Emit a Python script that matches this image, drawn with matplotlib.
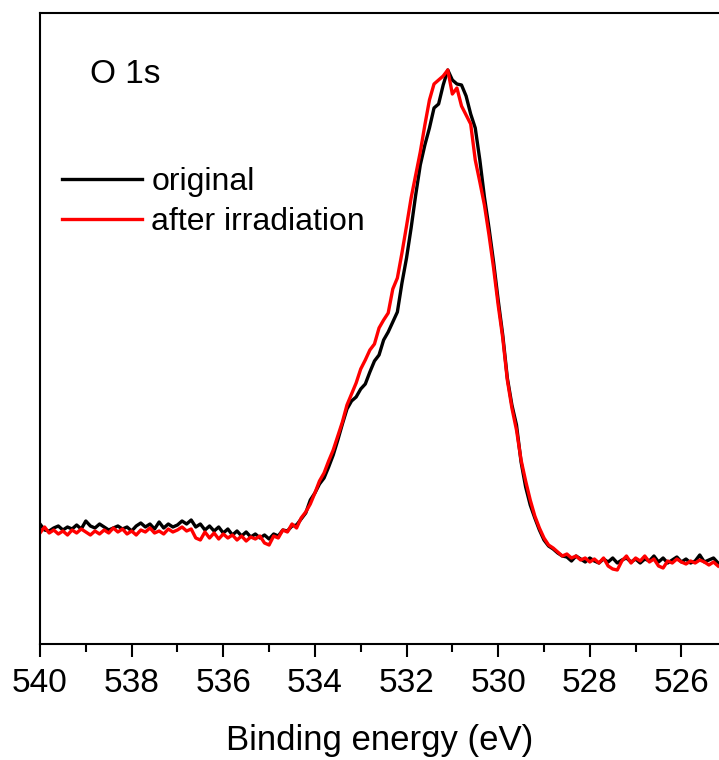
import numpy as np
import matplotlib
matplotlib.use('Agg')
import matplotlib.pyplot as plt

plt.rcParams['font.family'] = ['Liberation Sans', 'DejaVu Sans']

# Binding energy grid (eV), 0.1 eV steps from 540.0 down to 525.2
energy = np.round(np.linspace(540.0, 525.2, 149), 1)

# Intensity (a.u.)
original = [
    120, 114, 113, 116, 118, 114, 117, 115, 119, 115,
    123, 118, 116, 120, 117, 114, 116, 118, 115, 117,
    113, 118, 121, 117, 120, 115, 122, 116, 120, 117,
    119, 123, 120, 124, 117, 120, 114, 118, 113, 117,
    111, 115, 109, 113, 108, 112, 107, 110, 106, 109,
    105, 110, 108, 114, 113, 118, 119, 125, 131, 144,
    151, 160, 166, 177, 189, 204, 220, 235, 243, 247,
    255, 260, 272, 283, 289, 304, 312, 322, 332, 361,
    386, 416, 449, 479, 499, 516, 536, 540, 559, 574,
    564, 560, 559, 548, 530, 516, 484, 447, 416, 382,
    344, 309, 266, 239, 219, 182, 157, 139, 126, 114,
    104, 98, 95, 91, 88, 87, 83, 88, 85, 82,
    86, 83, 81, 85, 82, 86, 81, 84, 86, 82,
    85, 81, 85, 83, 88, 82, 86, 81, 84, 87,
    82, 85, 81, 83, 89, 82, 84, 86, 81,
]
irradiated = [
    111, 117, 111, 114, 110, 113, 109, 114, 111, 115,
    112, 109, 113, 110, 114, 111, 116, 112, 115, 110,
    113, 109, 114, 112, 116, 111, 113, 110, 115, 112,
    114, 117, 113, 115, 106, 104, 112, 106, 111, 105,
    110, 106, 109, 104, 108, 103, 107, 105, 108, 101,
    99, 108, 106, 114, 112, 120, 116, 126, 132, 140,
    151, 163, 171, 183, 194, 208, 222, 239, 250, 261,
    275, 284, 294, 300, 316, 324, 331, 355, 366, 391,
    418, 446, 469, 492, 519, 544, 560, 564, 568, 574,
    550, 556, 538, 529, 520, 484, 462, 439, 409, 376,
    339, 306, 264, 236, 214, 184, 163, 144, 128, 116,
    106, 99, 96, 92, 88, 90, 86, 88, 84, 86,
    82, 85, 81, 86, 78, 75, 74, 83, 88, 81,
    86, 83, 88, 82, 85, 78, 76, 83, 81, 85,
    82, 80, 83, 81, 84, 82, 79, 82, 78,
]

fig = plt.figure(figsize=(7.19, 7.60), dpi=100)
ax = fig.add_axes([40 / 719, 116 / 760, 679 / 719, 631 / 760])

ax.plot(energy, original, color='black', linewidth=2.4, label='original')
ax.plot(energy, irradiated, color='#ff0000', linewidth=2.4, label='after irradiation')

ax.set_xlim(540, 525.18)
ax.set_ylim(0, 631)
ax.set_xticks([540, 538, 536, 534, 532, 530, 528, 526])
ax.set_xticks(np.arange(539, 525, -2), minor=True)
ax.set_yticks([])
ax.tick_params(axis='x', which='major', direction='out', length=9, width=1.5,
               labelsize=24, pad=8)
ax.tick_params(axis='x', which='minor', direction='out', length=5.5, width=1.5)
for side in ['left', 'top', 'bottom']:
    ax.spines[side].set_linewidth(1.5)
ax.spines['right'].set_visible(False)

ax.set_xlabel('Binding energy (eV)', fontsize=25, labelpad=18)

ax.text(50 / 679, 561 / 631, 'O 1s', transform=ax.transAxes, fontsize=24,
        va='baseline', ha='left')

ax.legend(loc='center left', bbox_to_anchor=(22 / 679, 442 / 631), frameon=False,
          fontsize=23, handlelength=2.5, handletextpad=0.3, labelspacing=0.3,
          borderpad=0, borderaxespad=0)

fig.savefig('out.png', dpi=100)
